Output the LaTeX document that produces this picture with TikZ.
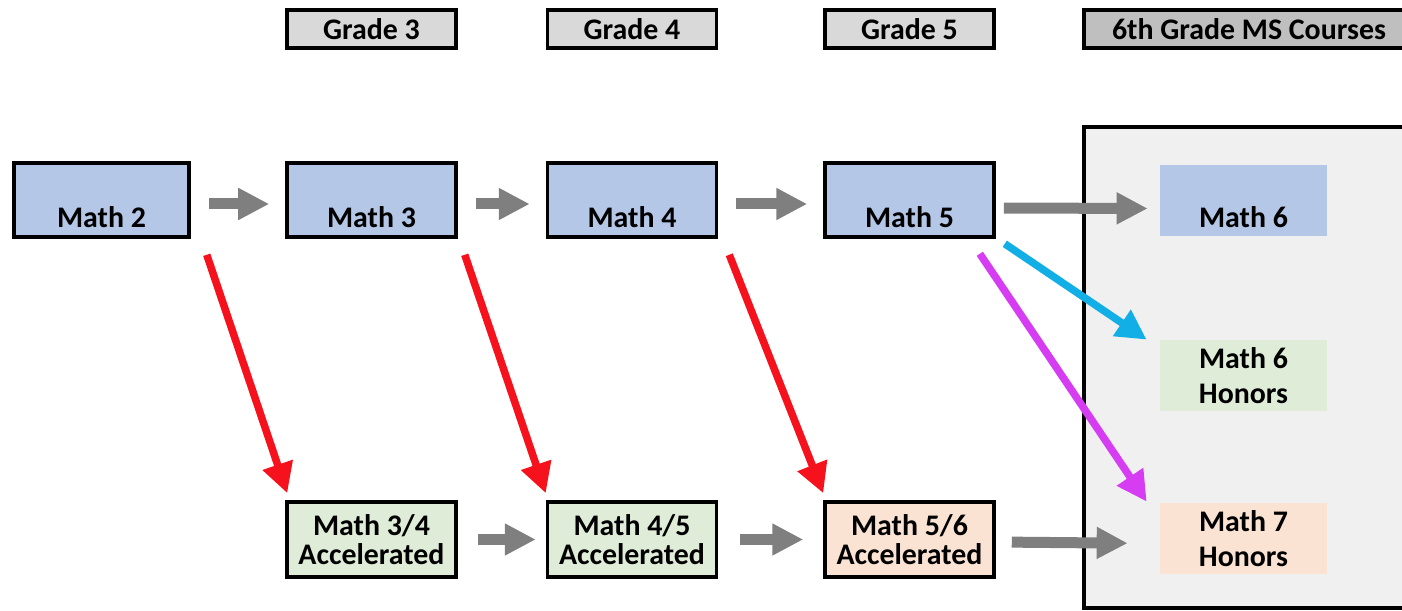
\documentclass[tikz,border=0pt]{standalone}
\usepackage{fontspec}
\setsansfont{Carlito}
\usetikzlibrary{arrows.meta, positioning, calc}
\definecolor{cblue}{HTML}{B4C7E7}
\definecolor{cgreen}{HTML}{DFEDD8}
\definecolor{cpeach}{HTML}{FBE3D4}
\definecolor{chead}{HTML}{D9D9D9}
\definecolor{cheaddark}{HTML}{BFBFBF}
\definecolor{cpanel}{HTML}{F0F0F0}
\definecolor{cgrey}{HTML}{7F7F7F}
\definecolor{cred}{HTML}{F5121C}
\definecolor{ccyan}{HTML}{12AEE6}
\definecolor{cmagenta}{HTML}{D63CF2}
\tikzset{
  every picture/.style={font=\sffamily\bfseries\fontsize{17}{16.5}\selectfont},
  box/.style={draw=black, line width=2pt, fill=#1, align=center, inner sep=0pt, minimum width=3.38cm},
  box/.default=cblue,
  grade/.style={box=#1, minimum height=0.76cm},
  grade/.default=chead,
  course/.style={box, text height=1.3cm, text depth=0.18cm},
  accel/.style={box=#1, minimum height=1.5cm},
  option/.style={fill=#1, align=center, inner sep=0pt, minimum width=3.34cm, minimum height=1.42cm, font=\sffamily\bfseries\fontsize{17}{20}\selectfont},
  arrow/.style={-{Triangle[length=0.62cm, width=0.6cm]}, draw=cgrey, line width=0.22cm},
  jump/.style={-{Triangle[length=0.6cm, width=0.6cm]}, draw=#1, line width=0.15cm},
}

\begin{document}
\begin{tikzpicture}
  \useasboundingbox (0,0) rectangle (28.04,-12.22);
  % middle school panel
  \draw[fill=cpanel, line width=1.8pt] (21.68,-2.54) rectangle (28.6,-12.16);
  % grade headers
  \foreach \n/\x/\t in {g3/7.43/Grade 3, g4/12.64/Grade 4, g5/18.19/Grade 5}
    \node[grade] (\n) at (\x,-0.58) {\t};
  \node[grade=cheaddark, minimum width=6.6cm] (g6) at (24.98,-0.58) {6th Grade MS Courses};
  % regular path
  \node[course, minimum width=3.5cm] (m2) at (2.03,-4.0) {Math 2};
  \foreach \n/\x/\t in {m3/7.43/Math 3, m4/12.64/Math 4, m5/18.19/Math 5}
    \node[course] (\n) at (\x,-4.0) {\t};
  % accelerated path
  \node[accel=cgreen] (a34) at (7.43,-10.79) {Math 3/4\\Accelerated};
  \node[accel=cgreen] (a45) at (12.64,-10.79) {Math 4/5\\Accelerated};
  \node[accel=cpeach] (a56) at (18.19,-10.79) {Math 5/6\\Accelerated};
  % 6th grade options
  \node[option=cblue, text height=1.26cm, text depth=0.16cm] (s6) at (24.87,-4.01) {Math 6};
  \node[option=cgreen] (s6h) at (24.87,-7.51) {Math 6\\Honors};
  \node[option=cpeach] (s7h) at (24.87,-10.77) {Math 7\\Honors};
  % grey steps
  \foreach \a/\b in {m2/m3, m3/m4, m4/m5}
    \draw[arrow, shorten <=0.36cm, shorten >=0.32cm] ([yshift=-0.08cm]\a.east) -- ([yshift=-0.08cm]\b.west);
  \draw[arrow, shorten <=0.16cm, shorten >=0.24cm] ([yshift=-0.16cm]m5.east) -- ([yshift=-0.16cm]s6.west);
  \draw[arrow, shorten <=0.4cm, shorten >=0.2cm] (a34) -- (a45);
  \draw[arrow, shorten <=0.44cm, shorten >=0.4cm] (a45) -- (a56);
  \draw[arrow, shorten <=0.32cm, shorten >=0.64cm] ([yshift=-0.05cm]a56.east) -- ([yshift=-0.1cm]s7h.west);
  % acceleration jumps
  \draw[jump=cred] ($(m2.south east)+(0.32,-0.32)$) -- ($(a34.north west)+(0.04,0.14)$);
  \draw[jump=cred] ($(m3.south east)+(0.14,-0.32)$) -- ($(a45.north west)+(0,0.14)$);
  \draw[jump=cred] ($(m4.south east)+(0.22,-0.32)$) -- ($(a56.north west)+(0,0.14)$);
  \draw[jump=ccyan] ($(m5.south east)+(0.18,-0.1)$) -- ($(s6h.north west)+(-0.26,0)$);
  \draw[jump=cmagenta] ($(m5.south east)+(-0.32,-0.3)$) -- ($(s7h.north west)+(-0.26,0.02)$);
\end{tikzpicture}
\end{document}
